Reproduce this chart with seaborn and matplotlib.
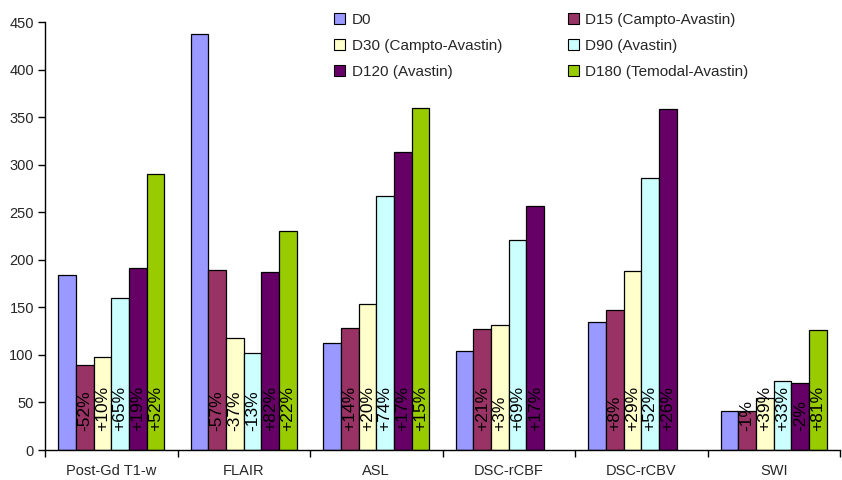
import numpy as np
import pandas as pd
import matplotlib
matplotlib.use("Agg")
import matplotlib.pyplot as plt
from matplotlib.patches import Patch
import seaborn as sns

# Measurements per imaging sequence and time point
categories = ["Post-Gd T1-w", "FLAIR", "ASL", "DSC-rCBF", "DSC-rCBV", "SWI"]
series_names = ["D0", "D15 (Campto-Avastin)", "D30 (Campto-Avastin)",
                "D90 (Avastin)", "D120 (Avastin)", "D180 (Temodal-Avastin)"]
d0 = [184, 437, 113, 104, 135, 41]
d15 = [89, 189, 128, 127, 147, 40.5]
d30 = [98, 118, 153, 131, 188, 55]
d90 = [160, 102, 267, 221, 286, 72.5]
d120 = [191, 187, 313, 257, 359, 70.5]
d180 = [290, 230, 360, np.nan, np.nan, 126.5]

# Change relative to the previous time point
pct_d15 = ["-52%", "-57%", "+14%", "+21%", "+8%", "-1%"]
pct_d30 = ["+10%", "-37%", "+20%", "+3%", "+29%", "+39%"]
pct_d90 = ["+65%", "-13%", "+74%", "+69%", "+52%", "+33%"]
pct_d120 = ["+19%", "+82%", "+17%", "+17%", "+26%", "-2%"]
pct_d180 = ["+52%", "+22%", "+15%", None, None, "+81%"]

colors = ["#9999FF", "#993366", "#FFFFCC", "#CCFFFF", "#660066", "#99CC00"]

values = [d0, d15, d30, d90, d120, d180]
labels = [[None] * len(categories), pct_d15, pct_d30, pct_d90, pct_d120, pct_d180]

rows = []
for name, vals in zip(series_names, values):
    for cat, v in zip(categories, vals):
        rows.append({"sequence": cat, "timepoint": name, "value": v})
df = pd.DataFrame(rows)

sns.set_theme(style="white")
plt.rcParams["font.family"] = ["Liberation Sans", "DejaVu Sans"]

fig = plt.figure(figsize=(8.42, 4.80), dpi=100)
ax = fig.add_axes([45 / 842, 30 / 480, 795 / 842, 428 / 480])

sns.barplot(data=df.dropna(), x="sequence", y="value", hue="timepoint",
            order=categories, hue_order=series_names, palette=colors,
            width=0.8, gap=0, errorbar=None, edgecolor="black",
            linewidth=0.9, saturation=1, ax=ax, legend=False)

# Percentage labels, written upward inside each bar near its base
for container, name, lab in zip(ax.containers, series_names, labels):
    for bar in container.patches:
        cx = bar.get_x() + bar.get_width() / 2
        idx = int(round(cx))
        text = lab[idx]
        if text:
            ax.text(cx, 20, text, rotation=90, ha="center", va="bottom",
                    fontsize=12.5, color="black")

ax.set_ylim(0, 450)
ax.set_xlim(-0.5, len(categories) - 0.5)
ax.set_yticks(np.arange(0, 451, 50))
ax.set_xlabel("")
ax.set_ylabel("")
ax.tick_params(axis="y", which="major", direction="out", length=5, width=1,
               color="black", labelsize=10.5, pad=3, left=True)
ax.tick_params(axis="x", which="major", length=0, labelsize=10.5, pad=10)
ax.set_xticks(np.arange(-0.5, len(categories)), minor=True)
ax.tick_params(axis="x", which="minor", direction="out", length=5, width=1,
               color="black", bottom=True)
for s in ["top", "right"]:
    ax.spines[s].set_visible(False)
for s in ["left", "bottom"]:
    ax.spines[s].set_color("black")
    ax.spines[s].set_linewidth(1)

handles = [Patch(facecolor=c, edgecolor="black", linewidth=0.8) for c in colors]
order = [0, 2, 4, 1, 3, 5]
fig.legend([handles[i] for i in order], [series_names[i] for i in order],
           ncol=2, loc="upper left", bbox_to_anchor=(334 / 842, 1 - 13 / 480),
           frameon=False, fontsize=11, handlelength=0.75, handleheight=0.75,
           handletextpad=0.4, labelspacing=0.78, columnspacing=4.3,
           borderpad=0, borderaxespad=0)

fig.savefig("out.png", dpi=100)
